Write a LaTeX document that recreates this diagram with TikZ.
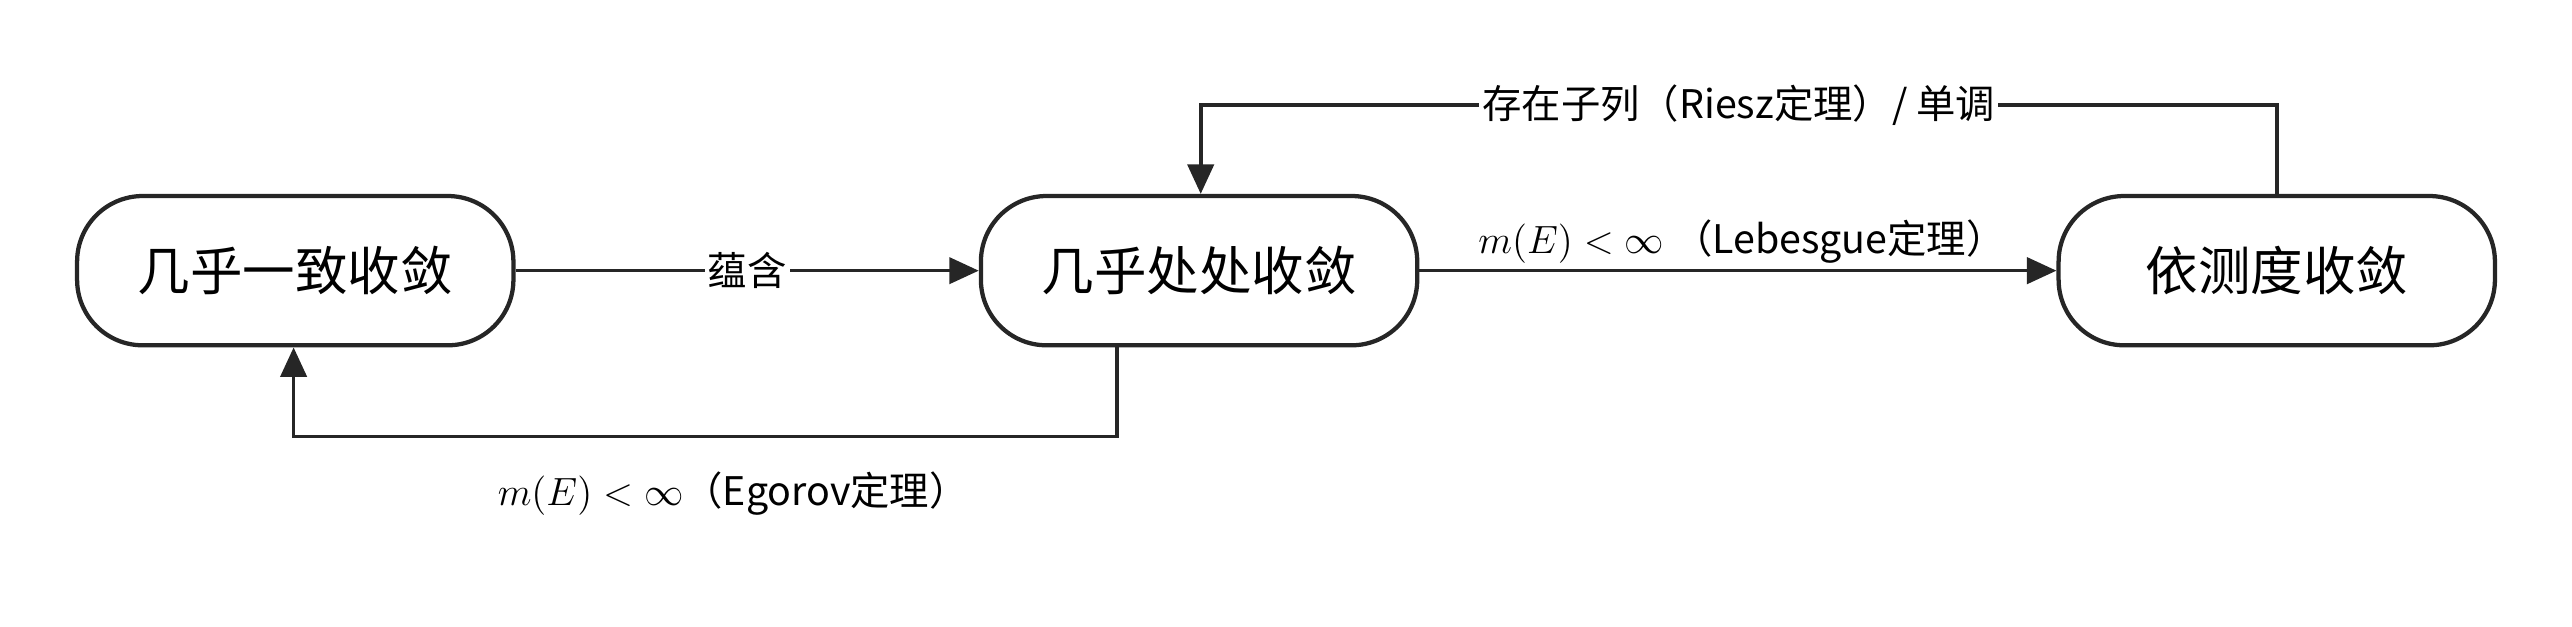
\documentclass[tikz,border=0pt]{standalone}
\usepackage{fontspec}
\setmainfont{Noto Sans CJK SC}
\usetikzlibrary{arrows.meta}
\begin{document}
\begin{tikzpicture}[x=0.5pt,y=-0.5pt,
  box/.style={draw=black!85,line width=1.3pt,rounded corners=20pt,minimum width=133pt,minimum height=45.5pt,font=\fontsize{16}{18}\selectfont},
  arr/.style={draw=black!85,line width=1.1pt,-{Triangle[length=9pt,width=8pt]}},
  lab/.style={font=\fontsize{12}{14}\selectfont,fill=white,inner sep=1pt}]
\useasboundingbox (0,0) rectangle (1568,382);
\node[box] (A) at (180,165) {几乎一致收敛};
\node[box] (B) at (731,165) {几乎处处收敛};
\node[box] (C) at (1388,165) {依测度收敛};
\draw[arr] (A) -- node[lab]{蕴含} (B);
\draw[arr] (B) -- (C);
\node[lab,fill=none] (l1) at (1062,147) {$m(E)<\infty$ （Lebesgue定理）};
\coordinate (b1) at (681,266);
\coordinate (b2) at (179,266);
\draw[arr] (B.south -| b1) -- (b1) -- (b2) -- (A.south -| b2);
\node[lab,fill=none] (l2) at (447,301) {$m(E)<\infty$（Egorov定理）};
\coordinate (c1) at (1388,64);
\coordinate (c2) at (732,64);
\draw[arr] (C.north -| c1) -- (c1) -- node[lab,pos=0.5]{存在子列（Riesz定理）/ 单调} (c2) -- (B.north -| c2);
\end{tikzpicture}
\end{document}
